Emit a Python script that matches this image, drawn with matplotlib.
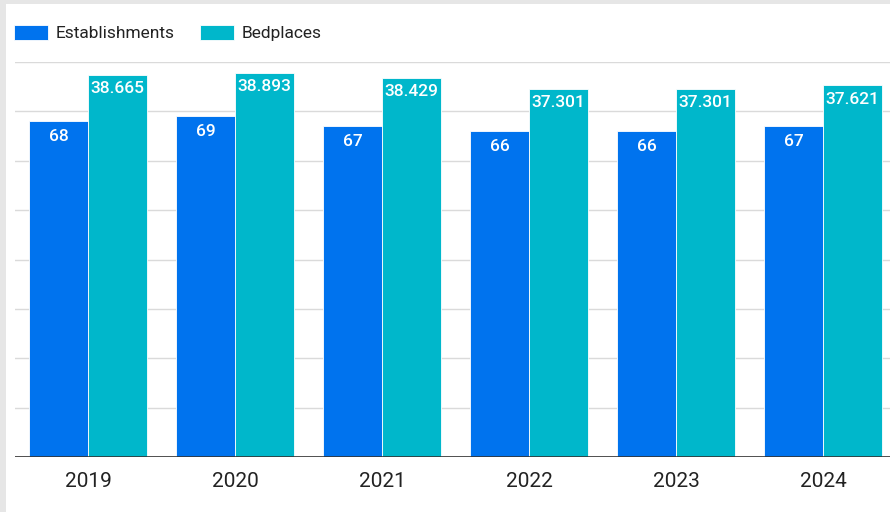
import numpy as np
import matplotlib
matplotlib.use('Agg')
import matplotlib.pyplot as plt
from matplotlib.patches import Rectangle

# Data
years = ['2019', '2020', '2021', '2022', '2023', '2024']
establishments = [68, 69, 67, 66, 66, 67]
bedplaces = [38665, 38893, 38429, 37301, 37301, 37621]

plt.rcParams['font.family'] = ['Roboto', 'DejaVu Sans']

c_est = '#0073EE'
c_bed = '#00B7CB'

fig = plt.figure(figsize=(8.9, 5.12), dpi=100, facecolor='#E6E6E6')
# white card behind everything
fig.patches.append(Rectangle((6 / 890, 0), 1, 1 - 4 / 512, transform=fig.transFigure,
                             facecolor='white', edgecolor='none', zorder=-10))

# plot area runs a little past the right edge, like the reference
ax = fig.add_axes([14.5 / 890, 1 - 457 / 512, 882 / 890, 395 / 512])
ax2 = ax.twinx()
ax.set_facecolor('none')
ax2.set_facecolor('none')

x = np.arange(len(years))
w = 0.4

ax.set_ylim(0, 80)
ax2.set_ylim(0, 40000)
ax.set_xlim(-0.5, len(years) - 0.5)

ax.set_yticks(np.arange(0, 81, 10))
ax.yaxis.grid(True, color='#DADADA', linewidth=1)
ax.set_axisbelow(True)
ax.tick_params(axis='y', left=False, labelleft=False)
ax2.tick_params(axis='y', right=False, labelright=False)
ax.tick_params(axis='x', length=0, labelsize=15, colors='#222222', pad=11)
ax.set_xticks(x)
ax.set_xticklabels(years)
for a in (ax, ax2):
    for s in ('top', 'right', 'left', 'bottom'):
        a.spines[s].set_visible(False)
ax2.axhline(0, color='#333333', linewidth=1.2, zorder=5)

b1 = ax.bar(x - w / 2, establishments, w, color=c_est, edgecolor='white',
            linewidth=0.6, label='Establishments', zorder=2)
b2 = ax2.bar(x + w / 2, bedplaces, w, color=c_bed, edgecolor='white',
             linewidth=0.6, label='Bedplaces', zorder=2)

for rect, v in zip(b1, establishments):
    ax2.annotate(f'{v}', (rect.get_x() + rect.get_width() / 2, rect.get_height() * 500),
                 xytext=(0, -5.5), textcoords='offset points', ha='center', va='top',
                 color='white', fontsize=12.5, fontweight='medium', zorder=6)
for rect, v in zip(b2, bedplaces):
    lab = f'{v:,}'.replace(',', '.')
    ax2.annotate(lab, (rect.get_x() + rect.get_width() / 2, rect.get_height()),
                 xytext=(0, -4.5), textcoords='offset points', ha='center', va='top',
                 color='white', fontsize=12.5, fontweight='medium', zorder=6)

fig.legend(handles=[b1, b2], labels=['Establishments', 'Bedplaces'],
           loc='center left', bbox_to_anchor=(14 / 890, 1 - 33 / 512), ncol=2,
           frameon=False, fontsize=12.5, handlelength=1.95, handleheight=1.0,
           handletextpad=0.45, columnspacing=1.45, labelcolor='#222222',
           borderpad=0, borderaxespad=0)

fig.savefig('out.png', dpi=100, facecolor=fig.get_facecolor())
